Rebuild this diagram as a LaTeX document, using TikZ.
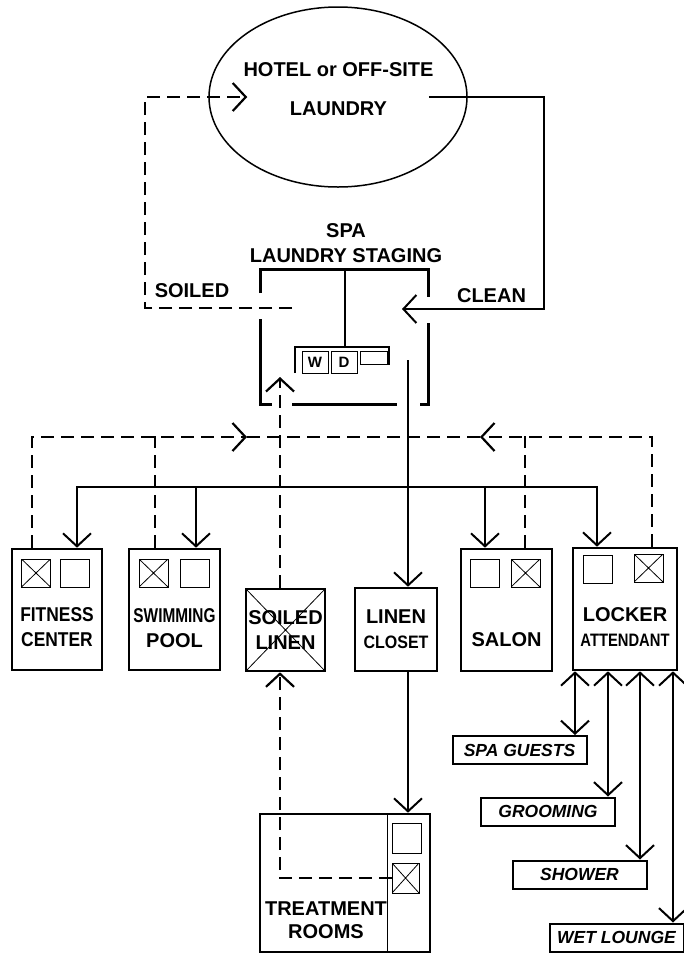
\documentclass[tikz,border=0pt]{standalone}
\usepackage{fontspec}
\setmainfont{Liberation Sans}
\usepackage{graphicx}
\usetikzlibrary{arrows.meta,positioning,shapes.geometric}
\newcommand{\lblfont}{\fontsize{20}{25}\selectfont\bfseries}
\newcommand{\tagfont}{\fontsize{17.5}{20}\selectfont\bfseries\itshape}
\newcommand{\narrow}[2]{\scalebox{#1}[1]{#2}}

\begin{document}
\begin{tikzpicture}[x=1pt, y=-1pt, >={Straight Barb[length=13pt, width=28pt]}, box/.style={draw, line width=2.6pt, inner sep=0pt}, bin/.style={draw, line width=1pt, inner sep=0pt, minimum width=29pt, minimum height=28pt}, xbin/.style={bin, path picture={\draw[line width=0.8pt] (path picture bounding box.north west) -- (path picture bounding box.south east) (path picture bounding box.south west) -- (path picture bounding box.north east);}}, tag/.style={draw, line width=2pt, minimum width=134pt, minimum height=28pt, inner sep=0pt, font=\tagfont}, lbl/.style={align=center, inner sep=0pt, font=\lblfont}, flow/.style={line width=2pt}, soil/.style={line width=2.2pt, dash pattern=on 13pt off 7pt}, wall/.style={line width=3pt}]
\useasboundingbox (0,0) rectangle (684,954);
% laundry and staging
\node[draw, ellipse, line width=1.5pt, minimum width=258pt, minimum height=180pt] (laundry) at (338,97) {};
\node[lbl, font=\fontsize{20}{38.5}\selectfont\bfseries] (laundrylbl) at (338.5,89) {HOTEL or OFF-SITE\\LAUNDRY};
\node[lbl] (staginglbl) at (346,243) {SPA\\LAUNDRY STAGING};
\draw[wall] (260,293) -- (260,269) -- (428,269) -- (428,297);
\draw[wall] (260,319) -- (260,404) -- (272,404);
\draw[wall] (292,404) -- (397,404);
\draw[wall] (420,404) -- (428,404) -- (428,323);
\draw[flow] (345,269) -- (345,347);
\draw[line width=1.6pt] (295,373) -- (295,347) -- (389,347) -- (389,365);
\node[bin, minimum width=26pt, minimum height=22pt, font=\fontsize{15}{15}\selectfont\bfseries] (washer) at (315,362) {W};
\node[bin, minimum width=26pt, minimum height=22pt, font=\fontsize{15}{15}\selectfont\bfseries] (dryer) at (344,362) {D};
\node[bin, minimum width=27pt, minimum height=13pt] (shelf) at (373.5,357.5) {};
\coordinate (soilout) at (292,308);
\coordinate (cleanin) at (402,309);
\coordinate (soilup) at (280,377);
\coordinate (cleanout) at (408,360);
\node[lbl] (soiledlbl) at (192,290.5) {SOILED};
\node[lbl] (cleanlbl) at (491.5,295.5) {CLEAN};
\draw[soil, ->] (soilout) -- ++(-147,0) |- ([xshift=39pt]laundry.west);
\draw[flow, ->] ([xshift=-39pt]laundry.east) -- ++(115,0) |- (cleanin);
% spa areas
\node[box, minimum width=90pt, minimum height=121pt] (fit) at (57,609.5) {};
\node[box, minimum width=91pt, minimum height=121pt] (pool) at (174.5,609.5) {};
\node[box, minimum width=79pt, minimum height=82pt, path picture={\draw[line width=0.8pt] (path picture bounding box.north west) -- (path picture bounding box.south east) (path picture bounding box.south west) -- (path picture bounding box.north east);}] (soil) at (285.5,630) {};
\node[box, minimum width=82pt, minimum height=83pt] (closet) at (396,629.5) {};
\node[box, minimum width=91pt, minimum height=122pt] (salon) at (506.5,610) {};
\node[box, minimum width=104pt, minimum height=122pt] (locker) at (625,609) {};
\node[box, minimum width=170pt, minimum height=138pt] (treat) at (345,883) {};
\draw[line width=1pt] (387,814) -- (387,952);
\node[xbin] (fitx) at (36,573) {};
\node[bin] (fito) at (74.5,573) {};
\node[xbin] (poolx) at (153.5,573) {};
\node[bin] (poolo) at (194.5,573) {};
\node[bin] (salono) at (484.5,573) {};
\node[xbin] (salonx) at (525.5,573) {};
\node[bin] (lockero) at (597.5,569) {};
\node[xbin] (lockerx) at (648.5,568) {};
\node[bin, minimum height=30pt] (treato) at (406.5,838) {};
\node[xbin, minimum width=27pt, minimum height=30pt] (treatx) at (405.5,878) {};
\node[lbl] (fitlbl) at ([yshift=-18pt]fit.center) {\narrow{0.87}{FITNESS}\\\narrow{0.87}{CENTER}};
\node[lbl] (poollbl) at ([yshift=-18.5pt]pool.center) {\narrow{0.77}{SWIMMING}\\POOL};
\node[lbl] (soillbl) at (soil.center) {SOILED\\LINEN};
\node[lbl] (closetlbl) at (closet.center) {LINEN\\{\fontsize{18}{25}\selectfont\narrow{0.89}{CLOSET}}};
\node[lbl] (salonlbl) at ([yshift=-30pt]salon.center) {SALON};
\node[lbl] (lockerlbl) at ([yshift=-18.5pt]locker.center) {LOCKER\\{\fontsize{18}{25}\selectfont\narrow{0.82}{ATTENDANT}}};
\node[lbl, font=\fontsize{20}{23}\selectfont\bfseries] (treatlbl) at ([xshift=-19pt, yshift=-37.5pt]treat.center) {TREATMENT\\ROOMS};
% locker outlets
\node[tag] (guests) at (519.5,750) {SPA GUESTS};
\node[tag] (groom) at (548,811.5) {GROOMING};
\node[tag] (shower) at (579.5,874.5) {SHOWER};
\node[tag] (wet) at (616.5,937.5) {WET LOUNGE};
% soiled collection
\coordinate (soilE) at (247,437);
\coordinate (soilW) at (480,437);
\draw[soil, ->] ([xshift=-25pt]fit.north) |- (soilE);
\draw[soil] (soilE) -- (soilW);
\draw[soil, ->] ([xshift=27pt]locker.north) |- (soilW);
\draw[soil] ([xshift=-19.5pt]pool.north) -- ++(0,-112);
\draw[soil] ([xshift=18.5pt]salon.north) -- ++(0,-112);
\draw[soil, ->] ([xshift=-5.5pt]soil.north) -- (soilup);
\draw[soil, ->] (treatx.west) -| ([xshift=-5.5pt]soil.south);
% clean distribution
\coordinate (dist) at (408,487);
\draw[flow, ->] (cleanout) -- ([xshift=12pt]closet.north);
\draw[flow, ->] (dist) -| ([xshift=20pt]fit.north);
\draw[flow, ->] (dist) -| ([xshift=21.5pt]pool.north);
\draw[flow, ->] (dist) -| ([xshift=-21.5pt]salon.north);
\draw[flow, ->] (dist) -| ([xshift=-28pt]locker.north);
\draw[flow, ->] ([xshift=12pt]closet.south) -- ([xshift=63pt]treat.north);
\draw[flow, <->] ([xshift=-50pt]locker.south) -- ([xshift=55.5pt]guests.north);
\draw[flow, <->] ([xshift=-17pt]locker.south) -- ([xshift=60pt]groom.north);
\draw[flow, <->] ([xshift=15pt]locker.south) -- ([xshift=60.5pt]shower.north);
\draw[flow, <->] ([xshift=48pt]locker.south) -- ([xshift=56.5pt]wet.north);
\end{tikzpicture}
\end{document}
